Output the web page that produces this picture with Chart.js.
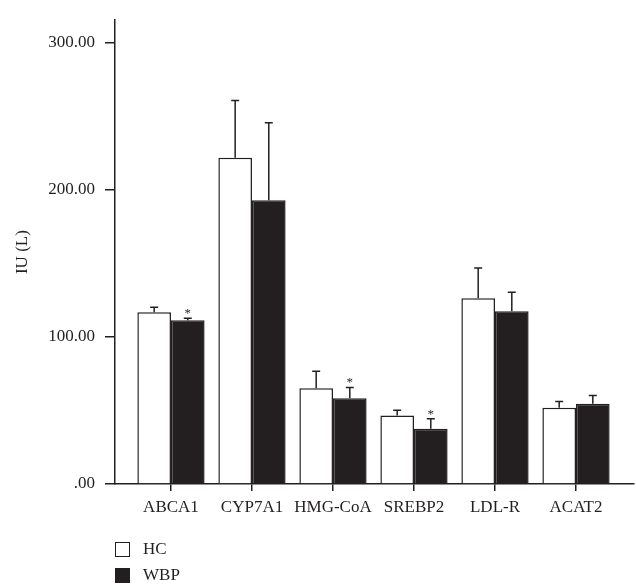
<!DOCTYPE html>
<html>
<head>
<meta charset="utf-8">
<script src="https://cdn.jsdelivr.net/npm/chart.js@4/dist/chart.umd.min.js"></script>
<style>
  html, body { margin: 0; padding: 0; background: #fff; }
  #wrap { position: relative; width: 636px; height: 584px; overflow: hidden; }
  #legend { position: absolute; left: 115px; top: 536px; font-family: "Liberation Serif", serif; font-size: 17px; color: #231f20; }
  .item { display: flex; align-items: center; height: 26px; }
  .box { width: 13px; height: 13px; border: 1.5px solid #231f20; margin-right: 13px; box-sizing: content-box; }
</style>
</head>
<body>
<div id="wrap">
  <canvas id="chart" width="636" height="584"></canvas>
  <div id="legend"></div>
</div>
<script>
const categories = ['ABCA1', 'CYP7A1', 'HMG-CoA', 'SREBP2', 'LDL-R', 'ACAT2'];
const hcValues  = [116.8, 221.7, 65.1, 46.6, 126.3, 51.9];
const hcErrors  = [3.3, 39.0, 11.5, 3.5, 20.5, 4.2];
const wbpValues = [111.3, 192.9, 58.3, 37.5, 117.4, 54.5];
const wbpErrors = [1.3, 52.6, 7.3, 6.9, 12.9, 5.6];
const wbpStars  = [true, false, true, true, false, false];
const yTicks = [0, 100, 200, 300];

const ink = '#231f20';
const serif = '"Liberation Serif", "DejaVu Serif", serif';

const toPoints = vals => vals.map((v, i) => ({ x: i, y: v }));

// error bars + significance marks
const errorBars = {
  id: 'errorBars',
  afterDatasetsDraw(chart) {
    const ctx = chart.ctx;
    const y = chart.scales.y;
    ctx.save();
    ctx.strokeStyle = ink;
    ctx.fillStyle = ink;
    ctx.lineWidth = 1.5;
    chart.data.datasets.forEach((ds, di) => {
      const meta = chart.getDatasetMeta(di);
      meta.data.forEach((bar, i) => {
        const top = y.getPixelForValue(ds.data[i].y + ds.errors[i]);
        ctx.beginPath();
        ctx.moveTo(bar.x, bar.y);
        ctx.lineTo(bar.x, top);
        ctx.moveTo(bar.x - 4, top);
        ctx.lineTo(bar.x + 4, top);
        ctx.stroke();
        if (ds.stars && ds.stars[i]) {
          ctx.font = '13px ' + serif;
          ctx.textAlign = 'center';
          ctx.textBaseline = 'alphabetic';
          ctx.fillText('*', bar.x, top - 1);
        }
      });
    });
    ctx.restore();
  }
};

const chart = new Chart(document.getElementById('chart'), {
  type: 'bar',
  data: {
    datasets: [
      { label: 'HC', data: toPoints(hcValues), errors: hcErrors, backgroundColor: '#fff', borderColor: ink, borderWidth: 1.5 },
      { label: 'WBP', data: toPoints(wbpValues), errors: wbpErrors, stars: wbpStars, backgroundColor: ink, borderColor: ink, borderWidth: 1.5 }
    ]
  },
  options: {
    responsive: false,
    animation: false,
    layout: { padding: { top: 9, right: 2, left: 0, bottom: 0 } },
    datasets: { bar: { barPercentage: 1, categoryPercentage: 0.83 } },
    plugins: { legend: { display: false }, tooltip: { enabled: false } },
    scales: {
      x: {
        type: 'linear',
        offset: false,
        min: -0.691,
        max: 5.716,
        afterBuildTicks: s => { s.ticks = categories.map((c, i) => ({ value: i })); },
        afterFit: s => { s.height = 100; },
        ticks: { callback: v => categories[v], color: ink, font: { family: serif, size: 17 }, padding: 6, maxRotation: 0, autoSkip: false },
        grid: { offset: false, drawOnChartArea: false, drawTicks: true, tickLength: 7, color: ink, lineWidth: 1.5 },
        border: { color: ink, width: 1.5 }
      },
      y: {
        min: 0,
        max: 315.2,
        afterBuildTicks: s => { s.ticks = yTicks.map(v => ({ value: v })); },
        afterFit: s => { s.width = 115; },
        ticks: { callback: v => v === 0 ? '.00' : v.toFixed(2), color: ink, font: { family: serif, size: 17 }, padding: 10 },
        grid: { drawOnChartArea: false, drawTicks: true, tickLength: 10, color: ink, lineWidth: 1.5 },
        border: { color: ink, width: 1.5 },
        title: { display: true, text: 'IU (L)', color: ink, font: { family: serif, size: 17 }, padding: { top: 12, bottom: 0 } }
      }
    }
  },
  plugins: [errorBars]
});

// legend built from the datasets, stacked vertically like the original
document.getElementById('legend').innerHTML = chart.data.datasets.map(ds =>
  `<div class="item"><span class="box" style="background:${ds.backgroundColor}"></span>${ds.label}</div>`
).join('');
</script>
</body>
</html>
